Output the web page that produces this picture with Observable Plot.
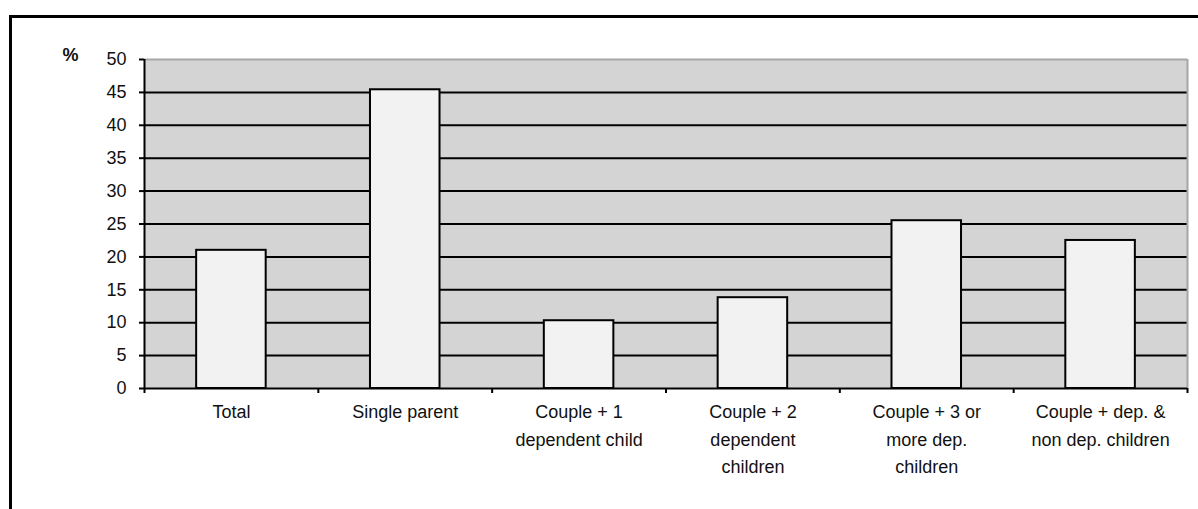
<!DOCTYPE html>
<html><head><meta charset="utf-8">
<script src="https://cdn.jsdelivr.net/npm/d3@7"></script>
<script src="https://cdn.jsdelivr.net/npm/@observablehq/plot@0.6"></script>
<style>
body{margin:0;background:#fff;font-family:"Liberation Sans",Arial,sans-serif;}
#wrap{position:relative;width:1198px;height:509px;overflow:hidden;}
#wrap svg{position:absolute;left:0;top:0;}
#border{position:absolute;left:9px;top:15px;width:1300px;height:700px;border:3px solid #000;pointer-events:none;}
</style></head><body>
<div id="wrap"><div id="border"></div></div>
<script>
const categories = ["Total", "Single parent", "Couple + 1 dependent child", "Couple + 2 dependent children", "Couple + 3 or more dep. children", "Couple + dep. & non dep. children"];
const tickLabels = ["Total", "Single parent", "Couple + 1\ndependent child", "Couple + 2\ndependent\nchildren", "Couple + 3 or\nmore dep.\nchildren", "Couple + dep. &\nnon dep. children"];
const values = [21.0, 45.4, 10.3, 13.8, 25.5, 22.5];
const yTicks = [0, 5, 10, 15, 20, 25, 30, 35, 40, 45, 50];
const gridLines = [5, 10, 15, 20, 25, 30, 35, 40, 45];
const yUnit = "%";

const data = categories.map((c, i) => ({category: c, label: tickLabels[i], value: values[i], i}));
const boundaries = d3.range(0, categories.length + 1);

const chart = Plot.plot({
  width: 1198,
  height: 509,
  marginLeft: 144,
  marginRight: 11,
  marginTop: 59,
  marginBottom: 121,
  style: {background: "transparent", fontFamily: "'Liberation Sans', Arial, sans-serif", fontSize: "18px", color: "#111"},
  x: {type: "linear", domain: [0, categories.length], axis: null},
  y: {domain: [0, 50], axis: null},
  marks: [
    Plot.frame({fill: "#d4d4d4", stroke: null}),
    Plot.ruleY(gridLines, {stroke: "#000", strokeWidth: 2}),
    Plot.ruleY([50], {stroke: "#a6a6a6", strokeWidth: 2}),
    Plot.ruleX([categories.length], {stroke: "#a6a6a6", strokeWidth: 2}),
    Plot.rectY(data, {x1: d => d.i + 0.3, x2: d => d.i + 0.7, y1: 0, y2: "value", fill: "#f2f2f2", stroke: "#000", strokeWidth: 2}),
    Plot.ruleY([0], {stroke: "#000", strokeWidth: 2}),
    Plot.ruleX([0], {stroke: "#000", strokeWidth: 2}),
    Plot.axisY({ticks: yTicks, tickSize: 5, tickPadding: 13, fontSize: 18, stroke: "#000", strokeWidth: 2, fill: "#111", label: null}),
    Plot.axisX({ticks: boundaries, tickSize: 5, tickFormat: () => "", stroke: "#000", strokeWidth: 2, label: null}),
    Plot.text(data, {x: d => d.i + 0.5, y: 0, text: "label", lineAnchor: "top", dy: 10, lineHeight: 1.53, fontSize: 18, fill: "#111"}),
    Plot.text([yUnit], {frameAnchor: "top-left", text: d => d, textAnchor: "start", dx: -82, dy: -11, fontWeight: "bold", fontSize: 18, fill: "#111"})
  ]
});
document.getElementById("wrap").insertBefore(chart, document.getElementById("border"));
</script>
</body></html>
